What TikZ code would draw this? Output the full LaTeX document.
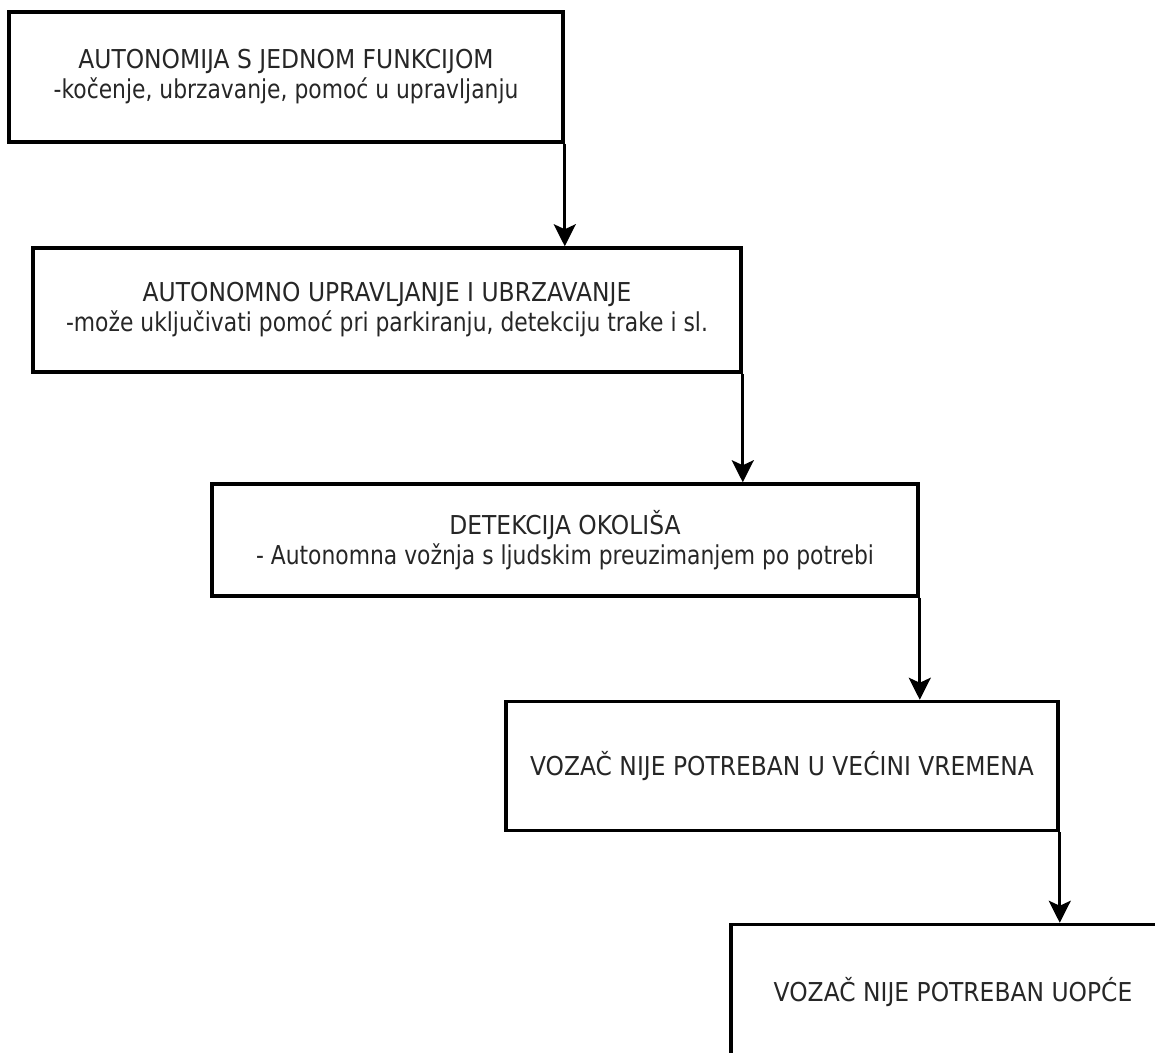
\documentclass[tikz,border=0pt]{standalone}
\usepackage{fontspec}
\setmainfont{DejaVu Sans}[FakeStretch=0.9]
\newfontfamily\notefont{DejaVu Sans}[FakeStretch=0.84]
\usetikzlibrary{arrows.meta}

\def\picW{1155}
\def\picH{1052}
\newcommand\levelnote[1]{{\notefont #1}}

\begin{document}
\begin{tikzpicture}[x=1pt, y=-1pt, >={Stealth[length=22pt,width=22pt,inset=5pt]},
    levelbox/.style={draw, line width=3.5pt, rectangle, align=center,
      font=\fontsize{26}{30}\selectfont, text=black!85},
    link/.style={->, line width=3pt}]
        \useasboundingbox (0,0) rectangle (\picW,\picH);
        \clip (0,0) rectangle (\picW,\picH);
        \node[levelbox, minimum width=554pt, minimum height=130pt] (level1) at (286,77)
          {AUTONOMIJA S JEDNOM FUNKCIJOM\\\levelnote{-kočenje, ubrzavanje, pomoć u upravljanju}};
        \node[levelbox, minimum width=708pt, minimum height=124pt] (level2) at (387,310)
          {AUTONOMNO UPRAVLJANJE I UBRZAVANJE\\\levelnote{-može uključivati pomoć pri parkiranju, detekciju trake i sl.}};
        \node[levelbox, minimum width=706pt, minimum height=112pt] (level3) at (565,540)
          {DETEKCIJA OKOLIŠA\\\levelnote{- Autonomna vožnja s ljudskim preuzimanjem po potrebi}};
        \node[levelbox, minimum width=552pt, minimum height=129pt] (level4) at (782,766)
          {VOZAČ NIJE POTREBAN U VEĆINI VREMENA};
        \node[levelbox, minimum width=444pt, minimum height=135pt] (level5) at (953,992)
          {VOZAČ NIJE POTREBAN UOPĆE};
        \draw[link] (level1.south east) -- (level1.south east |- level2.north);
        \draw[link] (level2.south east) -- (level2.south east |- level3.north);
        \draw[link] (level3.south east) -- (level3.south east |- level4.north);
        \draw[link] (level4.south east) -- (level4.south east |- level5.north);
      \end{tikzpicture}
\end{document}
